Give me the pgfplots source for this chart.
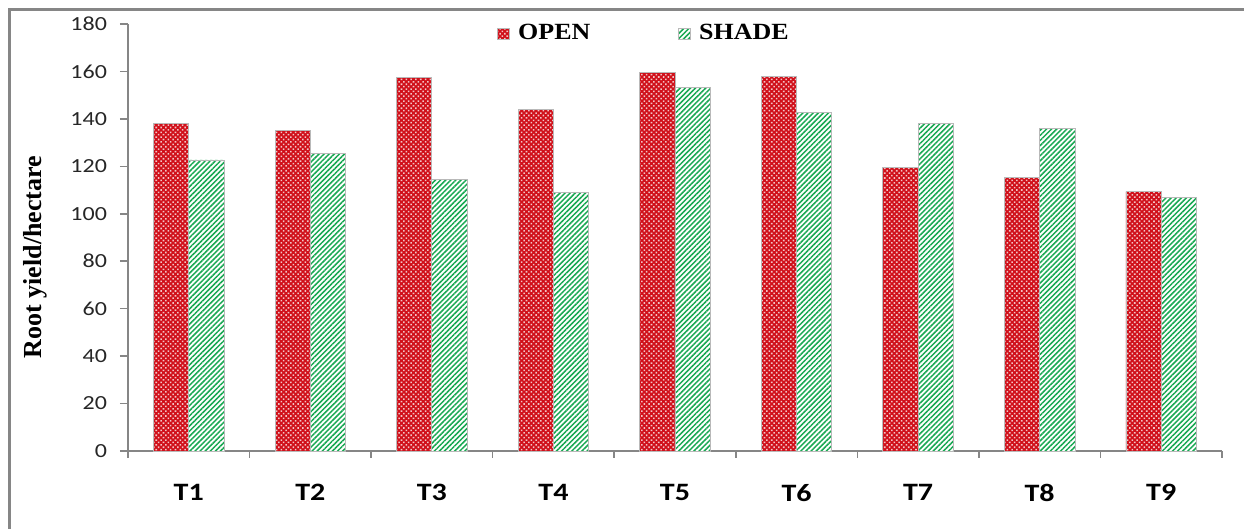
\documentclass[border=0pt]{standalone}
\usepackage{fontspec}
\usepackage{pgfplots}
\pgfplotsset{compat=1.18}
\usetikzlibrary{patterns.meta}

\newfontfamily\tickfont[FakeStretch=1.2]{Carlito}
\newfontfamily\tickbold[FakeStretch=1.2]{Carlito Bold}
\newfontfamily\legfont[FakeStretch=1.12]{Liberation Serif}
\newfontfamily\ylabfont{Liberation Serif}

\definecolor{openred}{RGB}{208,16,26}
\definecolor{shadegreen}{RGB}{24,168,82}
\definecolor{axisgray}{RGB}{134,134,134}

\pgfplotstableread{
x open  shade
0 138.0 122.7
1 135.3 125.5
2 157.4 114.5
3 143.8 108.9
4 159.5 153.3
5 157.8 142.9
6 119.6 137.9
7 115.4 136.0
8 109.3 106.9
}\yielddata

\begin{document}
\begin{tikzpicture}
\useasboundingbox (-64pt,-39pt) rectangle (558pt,225.5pt);
\begin{axis}[
  at={(0,0)}, anchor=south west,
  width=547pt, height=213.5pt, scale only axis,
  ybar,
  bar width=0.29,
  xmin=-0.5, xmax=8.5,
  ymin=0, ymax=180,
  ytick={0,20,...,180},
  xtick={0,...,8},
  xticklabels={T1,T2,T3,T4,T5,T6,T7,T8,T9},
  minor xtick={-0.5,0.5,...,8.5},
  axis x line*=bottom,
  axis y line*=left,
  axis line style={axisgray, line width=0.8pt, -},
  tick align=outside,
  major tick length=4pt,
  minor tick length=3.5pt,
  every tick/.style={axisgray, line width=0.8pt},
  x tick style={draw=none},
  minor x tick style={draw=axisgray, line width=0.8pt},
  /pgf/number format/assume math mode=true,
  yticklabel style={font=\tickfont\fontsize{10}{12}\selectfont, text=black!85, xshift=-3pt},
  xticklabel style={font=\tickbold\fontsize{12.5}{14}\selectfont, text=black, yshift=-9pt},
  ylabel={Root yield/hectare},
  every axis y label/.style={at={(rel axis cs:-0.085,0.454)}, rotate=90, anchor=center,
    font=\ylabfont\bfseries\fontsize{13}{15}\selectfont},
  legend image code/.code={\path[#1] (0pt,-2.8pt) rectangle (5.6pt,2.8pt); \path (8pt,0pt);},
  legend style={at={(rel axis cs:0.4726,0.977)}, anchor=center, draw=none, fill=none,
    legend columns=2, font=\legfont\bfseries\fontsize{11.6}{13}\selectfont,
    /tikz/every even column/.style={column sep=42pt}},
  clip=false,
]
\addplot[bar shift=-0.145, fill=openred, draw=gray!55, line width=0.4pt,
  postaction={pattern={Dots[distance=1.7pt, radius=0.55pt, angle=45]}, pattern color=white!75!openred}]
  table[x=x, y=open] {\yielddata};
\addplot[bar shift=0.145, fill=white, draw=gray!55, line width=0.4pt,
  postaction={pattern={Lines[angle=45, distance=1.8pt, line width=0.75pt]}, pattern color=shadegreen}]
  table[x=x, y=shade] {\yielddata};
\legend{OPEN, SHADE}
\end{axis}
% outer frame of the chart area
\draw[axisgray, line width=1.5pt] (-59.25pt,-40pt) -- (-59.25pt,220.75pt) -- (560pt,220.75pt);
\end{tikzpicture}
\end{document}
